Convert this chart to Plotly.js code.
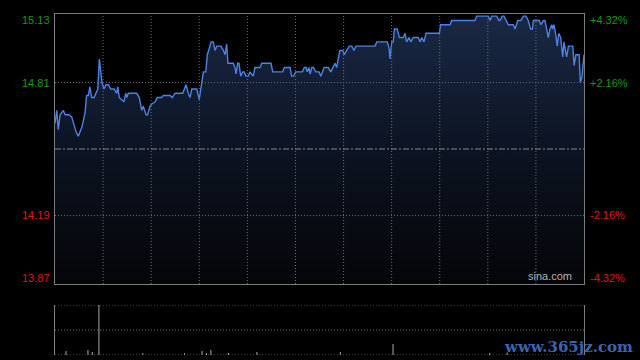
<!DOCTYPE html>
<html>
<head>
<meta charset="utf-8">
<script src="https://cdn.plot.ly/plotly-3.0.1.min.js"></script>
<style>html,body{margin:0;padding:0;background:#000;}#chart{width:640px;height:360px;}</style>
</head>
<body>
<div id="chart"></div>
<script>
// minute index within the trading day (0..241) and price
const minutes = [0.0,0.8,1.5,2.3,3.8,4.6,6.4,7.6,9.6,10.6,12.2,13.7,14.4,15.2,15.9,16.7,17.8,18.7,19.5,20.2,20.8,21.4,22.3,23.2,24.3,25.4,27.0,28.1,28.6,29.3,30.4,31.4,32.2,32.7,33.4,37.2,38.4,39.5,40.2,41.5,42.2,43.3,44.1,45.6,46.6,48.6,49.3,52.4,53.4,54.7,58.2,59.7,60.7,61.5,62.3,64.6,65.7,66.7,67.6,68.7,69.4,70.3,71.1,72.1,72.9,73.7,75.6,76.7,77.5,78.2,78.8,81.2,82.0,82.5,83.2,83.8,84.6,85.5,86.2,87.0,88.1,88.8,89.6,90.3,91.1,93.4,94.2,98.4,99.2,103.7,104.5,107.1,107.8,108.6,109.7,112.7,113.6,114.4,114.9,115.7,116.2,117.0,117.7,118.8,120.3,121.1,122.6,124.5,125.6,126.5,127.6,128.3,129.4,129.8,131.1,131.8,132.9,134.1,135.2,136.2,137.1,145.8,146.6,151.4,152.2,152.6,153.4,154.1,154.6,155.9,156.9,158.7,159.5,160.2,161.3,162.1,163.2,165.5,166.3,167.1,168.1,169.0,175.1,175.7,180.0,180.7,191.3,192.1,197.4,198.2,198.9,201.2,202.3,202.7,203.8,204.6,205.5,206.5,208.8,209.6,210.8,212.2,213.4,214.6,215.6,216.7,217.5,217.9,220.6,221.4,222.5,223.2,224.0,224.7,225.5,226.3,226.7,227.3,228.2,228.8,229.5,230.4,231.3,231.9,232.7,233.1,233.9,235.9,236.5,237.3,238.8,239.3,240.1,241.0];
const prices = [14.62,14.68,14.59,14.66,14.68,14.66,14.66,14.65,14.58,14.56,14.60,14.67,14.75,14.75,14.79,14.74,14.74,14.76,14.78,14.92,14.86,14.81,14.78,14.80,14.80,14.78,14.78,14.76,14.79,14.74,14.73,14.72,14.76,14.74,14.76,14.76,14.74,14.68,14.70,14.66,14.66,14.70,14.71,14.72,14.74,14.74,14.75,14.75,14.74,14.76,14.76,14.80,14.76,14.74,14.78,14.78,14.73,14.81,14.86,14.86,14.94,14.97,15.00,15.00,14.96,14.98,14.98,14.96,14.94,14.99,14.90,14.90,14.88,14.85,14.90,14.90,14.84,14.86,14.86,14.84,14.84,14.86,14.85,14.84,14.88,14.88,14.90,14.90,14.86,14.86,14.88,14.88,14.84,14.84,14.86,14.86,14.88,14.88,14.86,14.88,14.85,14.88,14.88,14.86,14.86,14.84,14.88,14.88,14.86,14.88,14.90,14.88,14.93,14.96,14.96,14.94,14.96,14.98,14.98,14.96,14.98,14.98,15.00,15.00,14.97,14.92,15.00,15.00,15.06,15.06,15.02,15.02,15.04,15.00,15.02,15.00,15.02,15.02,15.00,15.02,15.00,15.04,15.04,15.08,15.08,15.10,15.10,15.12,15.12,15.10,15.12,15.12,15.10,15.10,15.12,15.12,15.10,15.08,15.08,15.06,15.10,15.10,15.12,15.12,15.10,15.06,15.06,15.10,15.10,15.08,15.10,15.10,15.06,15.02,15.06,15.08,15.06,15.08,15.03,14.98,15.04,15.02,14.93,15.00,14.95,14.93,14.98,14.98,14.89,14.94,14.94,14.81,14.84,14.94];

const volMinutes = [5,15,17,20,40,59,67,69,71,79,92,130,154,198,206];
const volumes    = [400,500,300,5000,200,200,400,200,500,200,300,300,1100,200,250];

const prevClose = 14.50;
const leftLabelValues = [15.13, 14.81, 14.19, 13.87];
const leftLabels = ["15.13", "14.81", "14.19", "13.87"];
const rightLabels = ["+4.32%", "+2.16%", "-2.16%", "-4.32%"];
const gridPrices = [14.81, 14.19];

const green = "#119a11", red = "#e01414";
const annotations = [];
leftLabelValues.forEach((v, i) => {
  const shift = i === 0 ? -6 : (i === leftLabelValues.length - 1 ? 6 : 0);
  const col = v > prevClose ? green : red;
  annotations.push({xref: "paper", yref: "y", x: 0, y: v, xanchor: "right", yanchor: "middle",
    xshift: -3, yshift: shift, text: leftLabels[i], showarrow: false, font: {size: 11, color: col}});
  annotations.push({xref: "paper", yref: "y", x: 1, y: v, xanchor: "left", yanchor: "middle",
    xshift: 4, yshift: shift, text: rightLabels[i], showarrow: false, font: {size: 11, color: col}});
});
annotations.push({xref: "paper", yref: "y", x: 1, y: 13.87, xanchor: "right", yanchor: "bottom",
  xshift: -10, yshift: 0, text: "sina.com", showarrow: false, font: {size: 11, color: "#b4b4b4"}});
annotations.push({xref: "paper", yref: "paper", x: 1.1, y: 0, xanchor: "right", yanchor: "bottom",
  xshift: -2, yshift: -3, text: "<b>www.365jz.com</b>", showarrow: false,
  font: {size: 15, color: "#3a64b0", family: "DejaVu Serif, serif"}});

const gridCol = "#6e6e6e";
const gridDash = "1px,2px";
const shapes = [];
// vertical grid lines (11 equal columns)
for (let k = 1; k < 11; k++) {
  const gx = k * 241 / 11;
  shapes.push({type: "line", xref: "x", yref: "y", x0: gx, x1: gx, y0: 13.87, y1: 15.13,
    layer: "above", line: {color: gridCol, width: 1, dash: gridDash}});
}
gridPrices.forEach(g => shapes.push({type: "line", xref: "x", yref: "y", x0: 0, x1: 241, y0: g, y1: g,
  layer: "above", line: {color: gridCol, width: 1, dash: gridDash}}));
shapes.push({type: "line", xref: "x", yref: "y", x0: 0, x1: 241, y0: prevClose, y1: prevClose,
  layer: "above", line: {color: "#8a8a8a", width: 1, dash: "6px,2px,2px,2px"}});
[5000, 2500, 0].forEach(v => shapes.push({type: "line", xref: "x2", yref: "y2", x0: 0, x1: 241, y0: v, y1: v,
  line: {color: gridCol, width: 1, dash: gridDash}}));

const traces = [
  {x: minutes, y: prices, type: "scatter", mode: "lines", xaxis: "x", yaxis: "y",
   line: {color: "#4a82e6", width: 1.4}, fill: "tozeroy",
   fillgradient: {type: "vertical", start: 13.87, stop: 15.13,
     colorscale: [[0, "#040507"], [0.5, "#0c1322"], [1, "#1a2946"]]},
   hoverinfo: "skip"},
  {x: volMinutes, y: volumes, type: "bar", xaxis: "x2", yaxis: "y2",
   marker: {color: "#9a9a9a", line: {width: 0}}, width: 0.5, hoverinfo: "skip"}
];

const layout = {
  width: 640, height: 360,
  paper_bgcolor: "#000", plot_bgcolor: "#000",
  margin: {l: 55, r: 56, t: 14, b: 5},
  showlegend: false,
  font: {family: "Liberation Sans, Arial, sans-serif", size: 11},
  xaxis: {domain: [0, 1], range: [0, 241], showticklabels: false,
    ticks: "", showgrid: false, zeroline: false,
    showline: true, mirror: true, linecolor: "#7c7c7c", linewidth: 1, anchor: "y"},
  yaxis: {domain: [0.2082, 1], range: [13.87, 15.13], showticklabels: false,
    ticks: "", showgrid: false, zeroline: false,
    showline: true, mirror: true, linecolor: "#7c7c7c", linewidth: 1, anchor: "x"},
  xaxis2: {domain: [0, 1], range: [0, 241], showticklabels: false, ticks: "", showgrid: false,
    zeroline: false, showline: false, anchor: "y2"},
  yaxis2: {domain: [0, 0.1466], range: [0, 5000], showticklabels: false, ticks: "",
    showgrid: false, zeroline: false,
    showline: true, mirror: true, linecolor: "#7c7c7c", linewidth: 1, anchor: "x2"},
  shapes: shapes,
  annotations: annotations
};

Plotly.newPlot("chart", traces, layout, {staticPlot: true, displayModeBar: false});
</script>
</body>
</html>
